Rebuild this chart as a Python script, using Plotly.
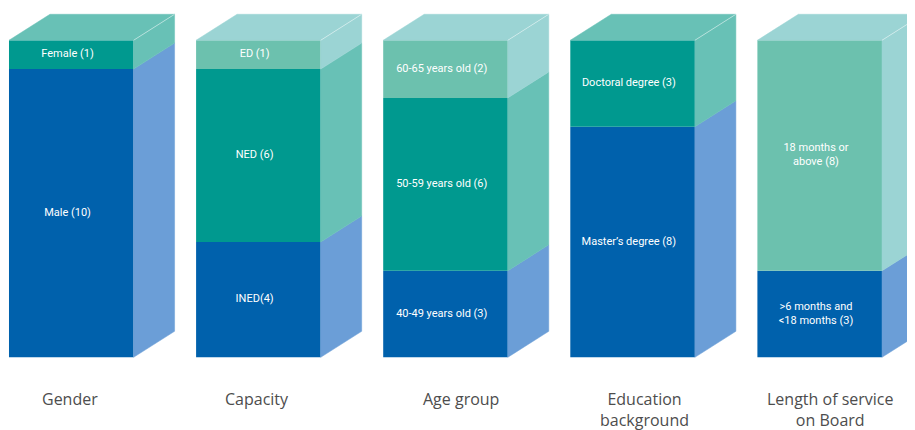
import plotly.graph_objects as go

# ---- data ----
categories = ["Gender", "Capacity", "Age group", "Education<br>background", "Length of service<br>on Board"]

gender_values = [10, 1]
gender_text = ["Male (10)", "Female (1)"]

capacity_values = [4, 6, 1]
capacity_text = ["INED(4)", "NED (6)", "ED (1)"]

age_values = [3, 6, 2]
age_text = ["40-49 years old (3)", "50-59 years old (6)", "60-65 years old (2)"]

education_values = [8, 3]
education_text = ["Master’s degree (8)", "Doctoral degree (3)"]

service_values = [3, 8]
service_text = ["&gt;6 months and<br>&lt;18 months (3)", "18 months or<br>above (8)"]

# ---- style ----
FRONT = ["#0061AC", "#00998F", "#6CC1AE"]
SIDE = ["#6B9ED7", "#68C1B6", "#9BD4D4"]
tiers = [[0, 1], [0, 1, 2], [0, 1, 2], [0, 1], [0, 2]]
label_xshift = [-1, -1, 15, 12, 11]

groups = [
    (gender_values, gender_text),
    (capacity_values, capacity_text),
    (age_values, age_text),
    (education_values, education_text),
    (service_values, service_text),
]

BAR_W = 0.666
DX = 0.219
DY = 0.902
INNER_FONT = "Roboto, sans-serif"
CAT_FONT = "Open Sans, sans-serif"

fig = go.Figure()
tx, ty, tt = [], [], []
for i, (vals, texts) in enumerate(groups):
    base = 0
    xl = i - BAR_W / 2
    xr = i + BAR_W / 2
    for v, t, tier in zip(vals, texts, tiers[i]):
        fig.add_bar(x=[i], y=[v], base=[base], width=BAR_W,
                    marker=dict(color=FRONT[tier], line=dict(width=0)),
                    hoverinfo="skip", showlegend=False)
        fig.add_scatter(x=[xr, xr + DX, xr + DX, xr, xr],
                        y=[base, base + DY, base + v + DY, base + v, base],
                        fill="toself", fillcolor=SIDE[tier], mode="lines",
                        line=dict(color=SIDE[tier], width=0.5),
                        hoverinfo="skip", showlegend=False)
        tx.append(i - 0.02)
        ty.append(base + v / 2)
        tt.append(t)
        base += v
    top_tier = tiers[i][-1]
    fig.add_scatter(x=[xl, xl + DX, xr + DX, xr, xl],
                    y=[base, base + DY, base + DY, base, base],
                    fill="toself", fillcolor=SIDE[top_tier], mode="lines",
                    line=dict(color=SIDE[top_tier], width=0.5),
                    hoverinfo="skip", showlegend=False)
    fig.add_scatter(x=[xr, xr + DX], y=[base, base + DY], mode="lines",
                    line=dict(color="rgba(255,255,255,0.6)", width=0.8),
                    hoverinfo="skip", showlegend=False)

fig.add_scatter(x=tx, y=ty, text=tt, mode="text",
                textfont=dict(color="white", size=11, family=INNER_FONT),
                hoverinfo="skip", showlegend=False)

for i, c in enumerate(categories):
    fig.add_annotation(x=i, y=-1.0, text=c, showarrow=False, yanchor="top",
                       xshift=label_xshift[i], align="center",
                       font=dict(size=16, color="#4D4D4D", family=CAT_FONT))

# page has an 8px body margin: figure is sized/ranged so page pixels match
fig.update_layout(
    width=907, height=422, autosize=False,
    margin=dict(l=0, r=0, t=0, b=0),
    barmode="overlay",
    plot_bgcolor="white", paper_bgcolor="white",
    xaxis=dict(range=[-0.3383, 4.5093], visible=False, fixedrange=True),
    yaxis=dict(range=[-2.5226, 12.120], visible=False, fixedrange=True),
    showlegend=False,
)

fig.write_html("out.html")
